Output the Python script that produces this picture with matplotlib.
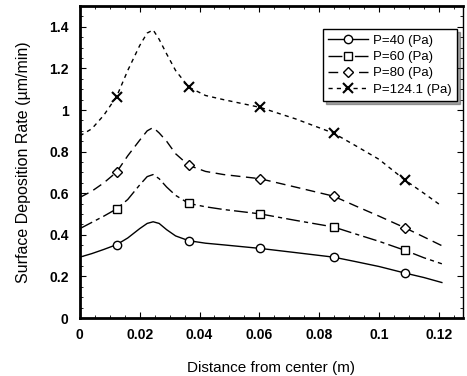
import matplotlib
matplotlib.use('Agg')
import matplotlib.pyplot as plt
from matplotlib.ticker import MultipleLocator, FuncFormatter

plt.rcParams['font.family'] = ['Liberation Sans', 'DejaVu Sans']

# curve samples
x_curve = [0, 0.004, 0.008, 0.0123, 0.016, 0.02, 0.0225, 0.0245, 0.0265, 0.029,
           0.032, 0.0364, 0.042, 0.048, 0.0602, 0.072, 0.0848, 0.092, 0.1,
           0.1088, 0.115, 0.121]
y_p40 = [0.293, 0.31, 0.33, 0.353, 0.385, 0.43, 0.455, 0.463, 0.455, 0.425,
         0.395, 0.372, 0.36, 0.352, 0.335, 0.315, 0.293, 0.272, 0.248, 0.216,
         0.195, 0.171]
y_p60 = [0.43, 0.46, 0.49, 0.525, 0.57, 0.64, 0.68, 0.69, 0.67, 0.63,
         0.59, 0.551, 0.535, 0.522, 0.501, 0.47, 0.438, 0.405, 0.369, 0.325,
         0.29, 0.261]
y_p80 = [0.58, 0.61, 0.65, 0.702, 0.78, 0.855, 0.9, 0.916, 0.89, 0.85,
         0.79, 0.734, 0.705, 0.69, 0.67, 0.63, 0.586, 0.54, 0.49, 0.433,
         0.39, 0.348]
y_p124 = [0.876, 0.91, 0.975, 1.065, 1.19, 1.31, 1.37, 1.385, 1.34, 1.27,
          1.19, 1.11, 1.07, 1.05, 1.013, 0.958, 0.889, 0.83, 0.763, 0.662,
          0.60, 0.538]

# marker positions
x_mark = [0.0123, 0.0364, 0.0602, 0.0848, 0.1088]
m_p40 = [0.353, 0.372, 0.335, 0.293, 0.216]
m_p60 = [0.525, 0.551, 0.501, 0.438, 0.325]
m_p80 = [0.702, 0.734, 0.67, 0.586, 0.433]
m_p124 = [1.065, 1.11, 1.013, 0.889, 0.662]

labels = ['P=40 (Pa)', 'P=60 (Pa)', 'P=80 (Pa)', 'P=124.1 (Pa)']

fig = plt.figure(figsize=(4.67, 3.76), dpi=100)
ax = fig.add_axes([0.171, 0.154, 0.82, 0.83])

series = [
    (y_p40, m_p40, 'o', '-', 6),
    (y_p60, m_p60, 's', (0, (10, 3, 3, 3)), 6),
    (y_p80, m_p80, 'D', (0, (7, 4)), 5),
    (y_p124, m_p124, 'x', (0, (3, 3)), 7),
]
handles = []
for (yc, ym, mk, ls, ms), lab in zip(series, labels):
    ax.plot(x_curve, yc, color='black', lw=1, linestyle=ls)
    ax.plot(x_mark, ym, linestyle='none', marker=mk, ms=ms, mfc='white',
            mec='black', mew=1.5 if mk == 'x' else 1)
    h, = ax.plot([], [], color='black', lw=1, linestyle=ls, marker=mk, ms=ms,
                 mfc='white', mec='black', mew=1.5 if mk == 'x' else 1, label=lab)
    handles.append(h)

ax.set_xlim(0, 0.128)
ax.set_ylim(0, 1.5)
ax.xaxis.set_major_locator(MultipleLocator(0.02))
ax.xaxis.set_minor_locator(MultipleLocator(0.005))
ax.yaxis.set_major_locator(MultipleLocator(0.2))
ax.yaxis.set_minor_locator(MultipleLocator(0.05))
fmt = FuncFormatter(lambda v, p: '%g' % round(v, 4))
ax.xaxis.set_major_formatter(fmt)
ax.yaxis.set_major_formatter(fmt)
ax.tick_params(which='both', direction='in', top=True, right=True)
ax.tick_params(which='major', length=4, labelsize=10)
ax.tick_params(axis='x', which='major', pad=7)
ax.tick_params(axis='y', which='major', pad=8)
ax.tick_params(which='minor', length=2)
for t in ax.get_xticklabels() + ax.get_yticklabels():
    t.set_fontweight('bold')
ax.spines['left'].set_linewidth(2)
ax.spines['bottom'].set_linewidth(2)
ax.spines['top'].set_linewidth(2)
ax.spines['right'].set_linewidth(1)

ax.set_xlabel('Distance from center (m)', fontsize=11, labelpad=14)
ax.set_ylabel('Surface Deposition Rate (\u00b5m/min)', fontsize=11.5, labelpad=13)

leg = ax.legend(handles=handles, loc='upper right', bbox_to_anchor=(0.985, 0.925),
                borderaxespad=0, fontsize=9.5, frameon=True, fancybox=False,
                shadow=True, edgecolor='black', handlelength=3,
                handletextpad=0.4, labelspacing=0.3, borderpad=0.4)
leg.get_frame().set_linewidth(1)

fig.savefig('out.png', dpi=100)
